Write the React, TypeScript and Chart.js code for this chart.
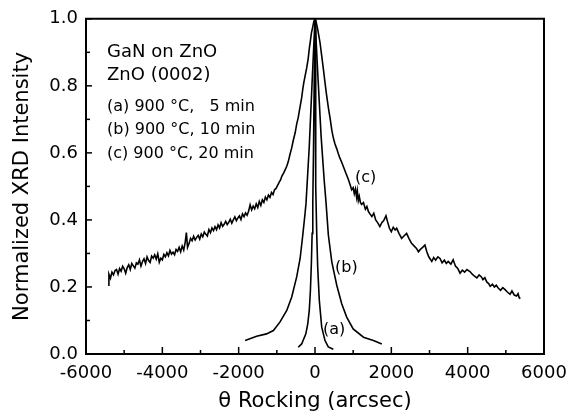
import React, { useEffect, useRef } from "react";
import { Chart, registerables } from "chart.js";

Chart.register(...registerables);

// Curve (a): 900 °C, 5 min
const aX = [-440, -350, -240, -190, -150, -120, -95, -75, -58, -40, -20, 0, 12, 26, 45, 70, 113, 176, 262, 348, 480];
const aY = [0.02, 0.03, 0.06, 0.09, 0.13, 0.19, 0.27, 0.36, 0.45, 0.6, 0.82, 1.0, 0.78, 0.5, 0.36, 0.26, 0.16, 0.08, 0.04, 0.021, 0.014];

// Curve (b): 900 °C, 10 min
const bX = [-1830, -1530, -1270, -1090, -920, -740, -610, -480, -390, -320, -260, -235, -150, -80, 0, 80, 160, 240, 290, 350, 440, 570, 700, 830, 1000, 1270, 1530, 1750];
const bY = [0.04, 0.053, 0.06, 0.07, 0.095, 0.13, 0.17, 0.23, 0.285, 0.355, 0.42, 0.45, 0.62, 0.8, 1.0, 0.82, 0.65, 0.52, 0.45, 0.355, 0.275, 0.205, 0.15, 0.11, 0.075, 0.05, 0.04, 0.03];

// Curve (c): 900 °C, 20 min
const cX = [
  -5420, -5400, -5360, -5320, -5280, -5240, -5200, -5160, -5120, -5080,
  -5040, -5000, -4960, -4920, -4880, -4840, -4800, -4760, -4720, -4680,
  -4640, -4600, -4560, -4520, -4480, -4440, -4400, -4360, -4320, -4280,
  -4240, -4200, -4160, -4120, -4080, -4040, -4000, -3960, -3920, -3880,
  -3840, -3800, -3760, -3720, -3680, -3640, -3600, -3560, -3520, -3480,
  -3440, -3400, -3370, -3340, -3300, -3260, -3220, -3180, -3140, -3100,
  -3060, -3020, -2980, -2940, -2900, -2860, -2820, -2780, -2740, -2700,
  -2660, -2620, -2580, -2540, -2500, -2460, -2420, -2380, -2340, -2300,
  -2260, -2220, -2180, -2140, -2100, -2060, -2020, -1980, -1940, -1900,
  -1860, -1820, -1780, -1740, -1700, -1660, -1620, -1580, -1540, -1500,
  -1460, -1420, -1380, -1340, -1300, -1260, -1220, -1180, -1140, -1100,
  -1060, -1020, -980, -940, -900, -870, -820, -780, -740, -700,
  -650, -610, -570, -520, -480, -440, -410, -380, -350, -320,
  -290, -250, -220, -180, -150, -120, -90, -60, -30, 0,
  30, 60, 100, 130, 175, 220, 260, 300, 350, 400,
  440, 480, 520, 570, 610, 650, 700, 740, 800, 870,
  920, 960, 1000, 1030, 1060, 1090, 1110, 1135, 1160, 1190,
  1220, 1270, 1320, 1360, 1400, 1440, 1490, 1540, 1590, 1640,
  1700, 1750, 1800, 1860, 1900, 1950, 2000, 2050, 2100, 2140,
  2200, 2270, 2330, 2400, 2460, 2530, 2600, 2660, 2710, 2760,
  2820, 2880, 2930, 2980, 3060, 3110, 3160, 3220, 3275, 3330,
  3390, 3440, 3490, 3560, 3620, 3680, 3740, 3800, 3860, 3920,
  3980, 4060, 4120, 4180, 4240, 4300, 4360, 4400, 4450, 4500,
  4550, 4590, 4650, 4700, 4750, 4800, 4860, 4920, 4980, 5040,
  5110, 5160, 5220, 5280, 5320, 5350, 5380,
];
const cY = [
  0.205, 0.238, 0.226, 0.244, 0.236, 0.249, 0.252, 0.238, 0.255, 0.247,
  0.262, 0.254, 0.241, 0.258, 0.266, 0.252, 0.27, 0.263, 0.256, 0.272,
  0.268, 0.281, 0.262, 0.276, 0.284, 0.27, 0.29, 0.279, 0.273, 0.292,
  0.286, 0.296, 0.283, 0.299, 0.274, 0.286, 0.281, 0.297, 0.29, 0.302,
  0.293, 0.309, 0.298, 0.304, 0.296, 0.312, 0.306, 0.318, 0.305, 0.322,
  0.31, 0.334, 0.362, 0.318, 0.33, 0.345, 0.338, 0.351, 0.34, 0.348,
  0.354, 0.343, 0.358, 0.35, 0.364, 0.357, 0.352, 0.371, 0.362, 0.376,
  0.368, 0.38, 0.371, 0.385, 0.376, 0.392, 0.381, 0.387, 0.396, 0.386,
  0.393, 0.402, 0.39, 0.4, 0.409, 0.398, 0.406, 0.412, 0.401, 0.418,
  0.41, 0.421, 0.414, 0.426, 0.445, 0.43, 0.441, 0.433, 0.448, 0.437,
  0.455, 0.443, 0.46, 0.452, 0.468, 0.46, 0.474, 0.467, 0.482, 0.476,
  0.49, 0.494, 0.503, 0.512, 0.52, 0.53, 0.54, 0.55, 0.56, 0.574,
  0.598, 0.615, 0.637, 0.66, 0.686, 0.705, 0.725, 0.745, 0.764, 0.79,
  0.812, 0.835, 0.852, 0.88, 0.91, 0.935, 0.96, 0.975, 0.992, 1.0,
  0.99, 0.975, 0.95, 0.93, 0.89, 0.85, 0.812, 0.775, 0.735, 0.7,
  0.668, 0.645, 0.628, 0.612, 0.598, 0.585, 0.572, 0.56, 0.542, 0.522,
  0.505, 0.49, 0.496, 0.478, 0.492, 0.468, 0.486, 0.458, 0.47, 0.452,
  0.446, 0.452, 0.432, 0.44, 0.425, 0.418, 0.41, 0.42, 0.4, 0.392,
  0.38, 0.392, 0.398, 0.412, 0.395, 0.375, 0.365, 0.378, 0.37, 0.375,
  0.36, 0.345, 0.352, 0.36, 0.345, 0.33, 0.322, 0.315, 0.305, 0.312,
  0.318, 0.325, 0.305, 0.29, 0.276, 0.288, 0.28, 0.29, 0.285, 0.272,
  0.28, 0.27, 0.276, 0.268, 0.281, 0.262, 0.255, 0.241, 0.25, 0.244,
  0.252, 0.246, 0.238, 0.232, 0.227, 0.236, 0.23, 0.222, 0.228, 0.215,
  0.21, 0.202, 0.208, 0.2, 0.205, 0.197, 0.19, 0.198, 0.192, 0.185,
  0.178, 0.188, 0.176, 0.173, 0.18, 0.168, 0.165,
];

const xTickValues = [-6000, -4000, -2000, 0, 2000, 4000, 6000];
const yTickValues = [0.0, 0.2, 0.4, 0.6, 0.8, 1.0];

const legendLines = [
  { text: "GaN on ZnO", size: 18, dy: 34 },
  { text: "ZnO (0002)", size: 18, dy: 57 },
  { text: "(a) 900 \u00B0C,   5 min", size: 16, dy: 88 },
  { text: "(b) 900 \u00B0C, 10 min", size: 16, dy: 111 },
  { text: "(c) 900 \u00B0C, 20 min", size: 16, dy: 135 },
];
const curveLabels = [
  { text: "(a)", x: 210, y: 0.073 },
  { text: "(b)", x: 524, y: 0.257 },
  { text: "(c)", x: 1048, y: 0.526 },
];

const FONT = "'DejaVu Sans', 'Liberation Sans', sans-serif";

const toPts = (xs: number[], ys: number[]) => xs.map((x, i) => ({ x, y: ys[i] }));

const framePlugin = {
  id: "frameTicks",
  afterDraw(chart: any) {
    const { ctx, chartArea, scales } = chart;
    const { left, right, top, bottom } = chartArea;
    const xs = scales.x;
    const ys = scales.y;
    ctx.save();
    ctx.strokeStyle = "#000";
    ctx.lineWidth = 1.5;
    const xt = xs.ticks.map((t: any) => t.value);
    for (let i = 0; i < xt.length; i++) {
      const px = xs.getPixelForValue(xt[i]);
      ctx.beginPath();
      ctx.moveTo(px, bottom);
      ctx.lineTo(px, bottom - 7);
      ctx.stroke();
      if (i < xt.length - 1) {
        const mx = xs.getPixelForValue((xt[i] + xt[i + 1]) / 2);
        ctx.beginPath();
        ctx.moveTo(mx, bottom);
        ctx.lineTo(mx, bottom - 4);
        ctx.stroke();
      }
    }
    const yt = ys.ticks.map((t: any) => t.value);
    for (let i = 0; i < yt.length; i++) {
      const py = ys.getPixelForValue(yt[i]);
      ctx.beginPath();
      ctx.moveTo(left, py);
      ctx.lineTo(left + 6, py);
      ctx.stroke();
      if (i < yt.length - 1) {
        const my = ys.getPixelForValue((yt[i] + yt[i + 1]) / 2);
        ctx.beginPath();
        ctx.moveTo(left, my);
        ctx.lineTo(left + 4, my);
        ctx.stroke();
      }
    }
    ctx.lineWidth = 2;
    ctx.beginPath();
    ctx.moveTo(left, top);
    ctx.lineTo(right, top);
    ctx.lineTo(right, bottom);
    ctx.lineTo(left, bottom);
    ctx.closePath();
    ctx.stroke();
    ctx.fillStyle = "#000";
    ctx.textAlign = "left";
    ctx.textBaseline = "middle";
    for (const l of legendLines) {
      ctx.font = `${l.size}px ${FONT}`;
      ctx.fillText(l.text, left + 21, top + l.dy);
    }
    ctx.font = `16px ${FONT}`;
    for (const c of curveLabels) {
      ctx.fillText(c.text, xs.getPixelForValue(c.x), ys.getPixelForValue(c.y));
    }
    ctx.restore();
  },
};

export default function App() {
  const ref = useRef<HTMLCanvasElement | null>(null);
  useEffect(() => {
    document.body.style.margin = "0";
    if (!ref.current) return;
    const line = (xs: number[], ys: number[]) => ({
      data: toPts(xs, ys),
      borderColor: "#000",
      borderWidth: 1.6,
      pointRadius: 0,
      showLine: true,
      fill: false,
      tension: 0,
    });
    const chart = new Chart(ref.current, {
      type: "scatter",
      data: { datasets: [line(aX, aY), line(bX, bY), line(cX, cY)] as any },
      options: {
        animation: false,
        responsive: false,
        layout: { padding: { left: 0, top: 13, right: 33, bottom: 0 } },
        plugins: { legend: { display: false }, tooltip: { enabled: false } },
        scales: {
          x: {
            type: "linear",
            min: -6000,
            max: 6000,
            afterBuildTicks: (s: any) => {
              s.ticks = xTickValues.map((v) => ({ value: v }));
            },
            afterFit: (s: any) => {
              s.height = 62;
            },
            grid: { display: false, drawTicks: false },
            border: { display: false },
            ticks: {
              color: "#000",
              padding: 9,
              maxRotation: 0,
              autoSkip: false,
              font: { family: FONT, size: 18 },
              callback: (v: any) => String(v),
            },
            title: {
              display: true,
              text: "\u03B8 Rocking (arcsec)",
              color: "#000",
              font: { family: FONT, size: 21 },
              padding: { top: 0, bottom: 2 },
            },
          },
          y: {
            type: "linear",
            min: 0,
            max: 1,
            afterBuildTicks: (s: any) => {
              s.ticks = yTickValues.map((v) => ({ value: v }));
            },
            afterFit: (s: any) => {
              s.width = 86;
            },
            grid: { display: false, drawTicks: false },
            border: { display: false },
            ticks: {
              color: "#000",
              padding: 8,
              autoSkip: false,
              font: { family: FONT, size: 18 },
              callback: (v: any) => Number(v).toFixed(1),
            },
            title: {
              display: true,
              text: "Normalized XRD Intensity",
              color: "#000",
              font: { family: FONT, size: 21 },
              padding: { top: 10, bottom: 0 },
            },
          },
        },
      },
      plugins: [framePlugin],
    });
    return () => chart.destroy();
  }, []);
  return (
    <div style={{ width: 577, height: 416 }}>
      <canvas ref={ref} width={577} height={416} style={{ display: "block" }} />
    </div>
  );
}
